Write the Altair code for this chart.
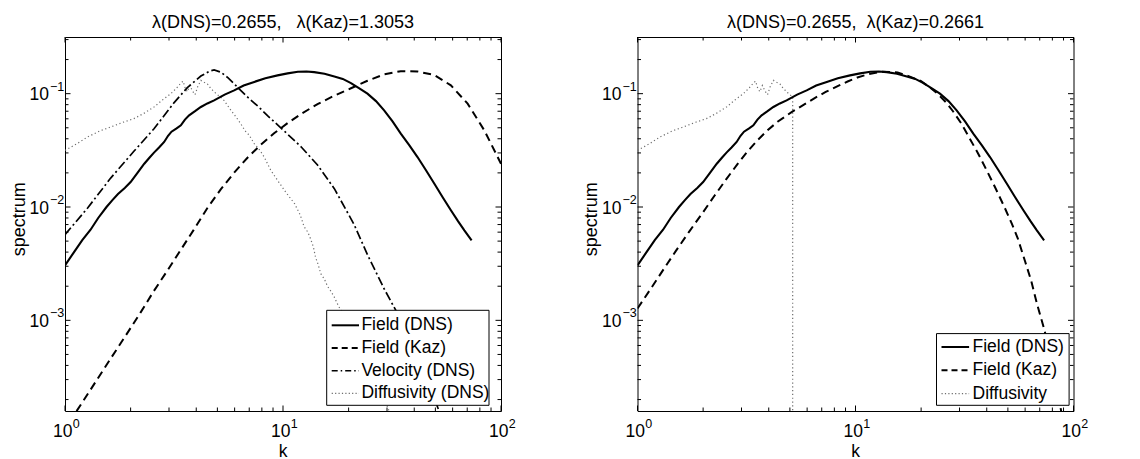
import altair as alt
import pandas as pd

# ---------------- data ----------------
k_field_dns = [1.00, 1.10, 1.20, 1.31, 1.42, 1.55, 1.65, 1.75, 1.88, 2.00, 2.15, 2.31, 2.45, 2.56, 2.70,
               2.85, 2.97, 3.08, 3.25, 3.40, 3.55, 3.71, 3.95, 4.20, 4.50, 4.83, 5.40, 5.97, 6.60, 7.38,
               8.30, 9.44, 10.5, 11.7, 12.8, 13.9, 15.5, 17.2, 18.8, 20.5, 22.3, 24.4, 26.7, 29.1, 31.8,
               34.7, 38.0, 41.4, 45.2, 49.4, 54.0, 58.9, 63.5, 67.9, 73.3]
s_field_dns = [0.00305, 0.0040, 0.0051, 0.0063, 0.0080, 0.0100, 0.0115, 0.0130, 0.0147, 0.0166, 0.0200,
               0.0241, 0.0275, 0.0302, 0.0335, 0.0375, 0.0425, 0.0462, 0.0495, 0.0526, 0.0590, 0.0644,
               0.0700, 0.0763, 0.0820, 0.0873, 0.0980, 0.107, 0.118, 0.127, 0.137, 0.145, 0.151, 0.156,
               0.157, 0.155, 0.150, 0.142, 0.135, 0.124, 0.112, 0.100, 0.086, 0.0713, 0.0570, 0.0444,
               0.0350, 0.0276, 0.0212, 0.0161, 0.0122, 0.00935, 0.0075, 0.00622, 0.00508]

k_kaz_left = [1.13, 1.30, 1.62, 1.90, 2.22, 2.55, 2.95, 3.40, 3.88, 4.50, 5.18, 5.97, 6.87, 7.91, 9.10,
              10.5, 12.1, 14.4, 17.2, 20.5, 24.4, 29.1, 34.7, 41.4, 49.4, 58.9, 70.3, 83.8, 100.0]
s_kaz_left = [1.58e-4, 2.39e-4, 4.6e-4, 7.35e-4, 1.17e-3, 1.8e-3, 2.75e-3, 4.2e-3, 6.22e-3, 0.0098,
              0.0143, 0.0201, 0.0272, 0.0355, 0.0447, 0.0550, 0.0662, 0.0809, 0.0961, 0.1116, 0.130,
              0.148, 0.158, 0.157, 0.146, 0.1185, 0.0816, 0.0475, 0.0241]

k_velocity = [1.0, 1.27, 1.62, 2.07, 2.56, 3.16, 3.64, 4.2, 4.6, 4.83, 5.18, 5.6, 5.97, 6.87, 7.7, 8.49,
              9.77, 12.1, 14.4, 17.2, 21.2, 24.4, 29.1, 33.5, 40.0, 46.0, 52.0]
s_velocity = [0.0057, 0.0098, 0.0180, 0.0310, 0.0490, 0.0830, 0.113, 0.143, 0.158, 0.162, 0.155, 0.138,
              0.122, 0.0935, 0.077, 0.064, 0.050, 0.034, 0.0235, 0.0145, 0.0070, 0.0038, 0.0019, 0.00115,
              0.00056, 0.00030, 0.000158]

k_diff_left = [1.0, 1.13, 1.27, 1.45, 1.62, 1.85, 2.07, 2.3, 2.56, 2.8, 3.06, 3.25, 3.40, 3.48, 3.56,
               3.64, 3.74, 3.84, 3.95, 4.06, 4.2, 4.35, 4.5, 4.65, 4.83, 5.0, 5.15, 5.37, 5.77, 6.1, 6.4,
               6.7, 7.0, 7.38, 7.8, 8.2, 8.8, 9.44, 10.3, 11.3, 12.0, 12.5, 13.0, 13.4, 13.8, 14.1, 14.5,
               14.9, 15.5, 16.0, 16.6, 17.2, 17.7, 18.2, 19.0, 20.4, 22.0, 25.0, 28.0, 31.0]
s_diff_left = [0.0316, 0.036, 0.0415, 0.047, 0.0508, 0.056, 0.0602, 0.067, 0.0763, 0.088, 0.100, 0.112,
               0.124, 0.129, 0.112, 0.104, 0.118, 0.106, 0.098, 0.115, 0.131, 0.126, 0.122, 0.112, 0.104,
               0.098, 0.094, 0.087, 0.0713, 0.062, 0.0543, 0.047, 0.043, 0.0362, 0.032, 0.0276, 0.021,
               0.0172, 0.0135, 0.0107, 0.0085, 0.0067, 0.0060, 0.0052, 0.0044, 0.0036, 0.0031, 0.00258,
               0.0023, 0.0020, 0.0018, 0.0016, 0.00142, 0.00128, 0.00115, 0.00093, 0.00065, 0.0004,
               0.00025, 0.00015]

k_kaz_right = [1.0, 1.15, 1.33, 1.50, 1.73, 2.0, 2.25, 2.55, 2.88, 3.2, 3.56, 3.95, 4.39, 5.15, 5.8, 6.47,
               7.3, 8.28, 9.2, 10.2, 11.5, 13.1, 15.6, 18.0, 20.0, 22.0, 23.8, 26.0, 28.0, 30.5, 33.0,
               36.4, 40.0, 44.0, 48.2, 52.0, 55.5, 60.0, 63.9, 68.0, 73.6, 78.0, 83.0, 87.8]
s_kaz_right = [0.00127, 0.0019, 0.0029, 0.0041, 0.0061, 0.0090, 0.0125, 0.0175, 0.0240, 0.0310, 0.0390,
               0.0475, 0.0565, 0.0698, 0.0800, 0.0910, 0.1035, 0.1165, 0.128, 0.139, 0.149, 0.156, 0.154,
               0.140, 0.129, 0.113, 0.100, 0.084, 0.070, 0.055, 0.042, 0.030, 0.021, 0.0145, 0.0100,
               0.0072, 0.0053, 0.0033, 0.00225, 0.0014, 0.00082, 0.0005, 0.00028, 0.000158]

k_diff_right = [1.0, 1.13, 1.27, 1.45, 1.62, 1.85, 2.07, 2.3, 2.56, 2.8, 3.06, 3.25, 3.40, 3.48, 3.56,
                3.64, 3.74, 3.84, 3.95, 4.06, 4.2, 4.35, 4.5, 4.65, 4.83, 5.0, 5.15, 5.15]
s_diff_right = [0.0316, 0.036, 0.0415, 0.047, 0.0508, 0.056, 0.0602, 0.067, 0.0763, 0.088, 0.100, 0.112,
                0.124, 0.129, 0.112, 0.104, 0.118, 0.106, 0.098, 0.115, 0.131, 0.126, 0.122, 0.112, 0.104,
                0.098, 0.094, 0.00015]

x_major = [1, 10, 100]
x_major_exp = ["0", "1", "2"]
y_major = [1e-3, 1e-2, 1e-1]
y_major_exp = ["\u22123", "\u22122", "\u22121"]
x_minor = [2, 3, 4, 5, 6, 7, 8, 9, 20, 30, 40, 50, 60, 70, 80, 90]
y_minor = [2e-4, 3e-4, 4e-4, 5e-4, 6e-4, 7e-4, 8e-4, 9e-4,
           2e-3, 3e-3, 4e-3, 5e-3, 6e-3, 7e-3, 8e-3, 9e-3,
           2e-2, 3e-2, 4e-2, 5e-2, 6e-2, 7e-2, 8e-2, 9e-2, 0.2, 0.3]

title_left = "\u03bb(DNS)=0.2655,\u00a0\u00a0\u00a0\u03bb(Kaz)=1.3053"
title_right = "\u03bb(DNS)=0.2655,\u00a0\u00a0\u03bb(Kaz)=0.2661"
x_title = "k"
y_title = "spectrum"
legend_left = ["Field (DNS)", "Field (Kaz)", "Velocity (DNS)", "Diffusivity (DNS)"]
legend_right = ["Field (DNS)", "Field (Kaz)", "Diffusivity"]

# ---------------- styling ----------------
FONT = "Liberation Sans"
W, H = 436, 374
xs = alt.Scale(type="log", domain=[1, 100], nice=False)
ys = alt.Scale(type="log", domain=[10 ** -3.8, 10 ** -0.5], nice=False)
X = alt.X("k:Q", scale=xs, axis=None)
Y = alt.Y("s:Q", scale=ys, axis=None)

# styles on the curves
SOLID = {"color": "black", "strokeWidth": 2.1}
DASHED = {"color": "black", "strokeWidth": 2, "strokeDash": [8, 5]}
DASHDOT = {"color": "black", "strokeWidth": 1.7, "strokeDash": [9, 3, 2, 3]}
DOTTED = {"color": "#6e6e6e", "strokeWidth": 1.2, "strokeDash": [1.2, 2.6]}
# styles of the legend samples
L_SOLID = {"color": "black", "strokeWidth": 2}
L_DASHED = {"color": "black", "strokeWidth": 2, "strokeDash": [6, 4]}
L_DASHDOT = {"color": "black", "strokeWidth": 1.6, "strokeDash": [6, 3, 1.5, 3]}
L_DOTTED = {"color": "#6e6e6e", "strokeWidth": 1.2, "strokeDash": [1.2, 2.2]}


def curve(k, s, style):
    df = pd.DataFrame({"k": k, "s": s, "i": list(range(len(k)))})
    return alt.Chart(df).mark_line(clip=True, **style).encode(x=X, y=Y, order="i:Q")


def text_at(txt, x, y, size=18, align="center", baseline="alphabetic", angle=None):
    kw = dict(font=FONT, fontSize=size, align=align, baseline=baseline, color="black")
    if angle is not None:
        kw["angle"] = angle
    return alt.Chart(pd.DataFrame({"t": [txt]})).mark_text(**kw).encode(
        x=alt.value(x), y=alt.value(y), text="t:N")


def ticks():
    layers = []
    for vals, L in ((x_major, 5.5), (x_minor, 3.5)):
        base = alt.Chart(pd.DataFrame({"k": vals})).mark_rule(color="black", strokeWidth=1)
        layers.append(base.encode(x=X, y=alt.value(H), y2=alt.value(H - L)))
        layers.append(base.encode(x=X, y=alt.value(0), y2=alt.value(L)))
    for vals, L in ((y_major, 5.5), (y_minor, 3.5)):
        base = alt.Chart(pd.DataFrame({"s": vals})).mark_rule(color="black", strokeWidth=1)
        layers.append(base.encode(y=Y, x=alt.value(0), x2=alt.value(L)))
        layers.append(base.encode(y=Y, x=alt.value(W), x2=alt.value(W - L)))
    return layers


def tick_labels():
    dfx = pd.DataFrame({"k": x_major, "b": ["10"] * 3, "e": x_major_exp})
    dfy = pd.DataFrame({"s": y_major, "b": ["10"] * 3, "e": y_major_exp})
    return [
        alt.Chart(dfx).mark_text(font=FONT, fontSize=17.5, align="center", baseline="alphabetic",
                                 dx=-2.2).encode(x=X, y=alt.value(H + 25.5), text="b:N"),
        alt.Chart(dfx).mark_text(font=FONT, fontSize=12.5, align="left", baseline="alphabetic",
                                 dx=7.8).encode(x=X, y=alt.value(H + 16.5), text="e:N"),
        alt.Chart(dfy).mark_text(font=FONT, fontSize=17.5, align="right", baseline="alphabetic",
                                 dy=6.5).encode(x=alt.value(-16), y=Y, text="b:N"),
        alt.Chart(dfy).mark_text(font=FONT, fontSize=12.5, align="left", baseline="alphabetic",
                                 dy=-3).encode(x=alt.value(-15), y=Y, text="e:N"),
    ]


def legend(names, styles, box, rows, sx, tx):
    x0, x1, y0, y1 = box
    layers = [alt.Chart(pd.DataFrame({"t": [0]})).mark_rect(fill="white", stroke="black", strokeWidth=1)
              .encode(x=alt.value(x0), x2=alt.value(x1), y=alt.value(y0), y2=alt.value(y1))]
    for name, style, ry in zip(names, styles, rows):
        layers.append(alt.Chart(pd.DataFrame({"t": [name]})).mark_rule(**style).encode(
            x=alt.value(sx[0]), x2=alt.value(sx[1]), y=alt.value(ry)))
        layers.append(text_at(name, tx, ry, size=17.5, align="left", baseline="middle"))
    return layers


def panel(curves, title, leg):
    layers = (curves + ticks() + tick_labels()
              + [text_at(title, W / 2, -8.7),
                 text_at(x_title, W / 2, H + 45.5, size=17.5),
                 text_at(y_title, -40.3, 182.3, angle=270)]
              + leg)
    return alt.layer(*layers).properties(width=W, height=H)


left = panel(
    [curve(k_diff_left, s_diff_left, DOTTED),
     curve(k_velocity, s_velocity, DASHDOT),
     curve(k_kaz_left, s_kaz_left, DASHED),
     curve(k_field_dns, s_field_dns, SOLID)],
    title_left,
    legend(legend_left, [L_SOLID, L_DASHED, L_DASHDOT, L_DOTTED],
           (261.7, 424.0, 273.3, 368.3), [288.3, 311.0, 333.7, 356.4], (266.7, 294.0), 296.4),
)

right = panel(
    [curve(k_diff_right, s_diff_right, DOTTED),
     curve(k_kaz_right, s_kaz_right, DASHED),
     curve(k_field_dns, s_field_dns, SOLID)],
    title_right,
    legend(legend_right, [L_SOLID, L_DASHED, L_DOTTED],
           (299.0, 431.6, 296.6, 368.3), [310.0, 333.3, 356.6], (304.0, 331.6), 335.0),
)

chart = (
    alt.hconcat(left, right, spacing=136.5, bounds="flush")
    .properties(padding={"left": 2, "top": 5, "right": 2, "bottom": 1}, background="white")
    .configure_view(stroke="black", strokeWidth=1)
)

chart.save("out.html", embed_options={"renderer": "svg", "actions": False})
